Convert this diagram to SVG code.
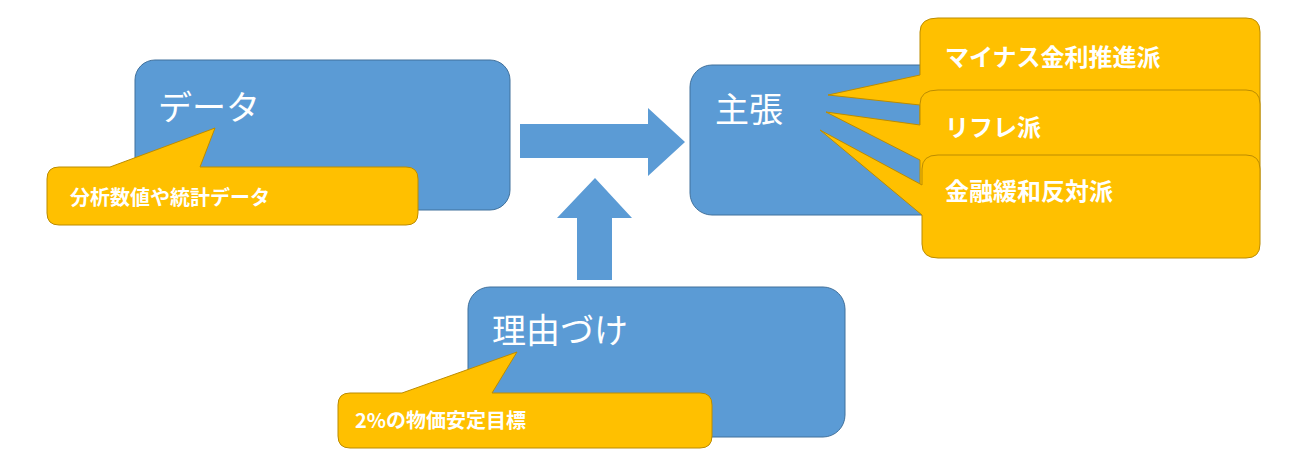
<svg xmlns="http://www.w3.org/2000/svg" width="1300" height="457" viewBox="0 0 1300 457">
<style>
.b{fill:#5b9bd5;stroke:#41719c;stroke-width:1}
.y{fill:#ffc000;stroke:#bc8c00;stroke-width:1}
.a{fill:#5b9bd5}
text{font-family:"Noto Sans CJK JP","Noto Sans",sans-serif;fill:#fff}
.t{font-size:34px}
.s{font-size:20px;font-weight:bold}
.m{font-size:24px;font-weight:bold}
</style>
<rect width="1300" height="457" fill="#fff"/>
<g id="connectors">
<path class="a" d="M520 124H648V108L685 142L648 176V158H520Z"/>
<path class="a" d="M577 280V218H557L595 178L632 218H612V280Z"/>
</g>
<g id="data">
<rect class="b" x="135" y="60" width="375" height="150" rx="20"/>
<text class="t" x="158" y="120">データ</text>
</g>
<g id="data-callout">
<path class="y" d="M59 167H110L215 128L200 167H406Q418 167 418 179V213Q418 225 406 225H59Q47 225 47 213V179Q47 167 59 167Z"/>
<text class="s" x="70" y="205">分析数値や統計データ</text>
</g>
<g id="claim">
<rect class="b" x="690" y="65" width="260" height="150" rx="22"/>
<text class="t" x="715" y="122">主張</text>
</g>
<g id="callout1">
<path class="y" d="M938 18H1246Q1260 18 1260 32V140H920V105L828 95L920 75V32Q920 18 938 18Z"/>
<text class="m" x="945" y="66">マイナス金利推進派</text>
</g>
<g id="callout2">
<path class="y" d="M938 90H1246Q1260 90 1260 104V190H920V160L826 112L920 125V104Q920 90 938 90Z"/>
<text class="m" x="945" y="136">リフレ派</text>
</g>
<g id="callout3">
<path class="y" d="M938 155H1246Q1260 155 1260 169V244Q1260 258 1246 258H938Q922 258 922 244V215L820 130L922 185V169Q922 155 938 155Z"/>
<text class="m" x="945" y="200">金融緩和反対派</text>
</g>
<g id="reason">
<rect class="b" x="468" y="287" width="377" height="150" rx="22"/>
<text class="t" x="492" y="343">理由づけ</text>
</g>
<g id="reason-callout">
<path class="y" d="M350 393H402L517 352L492 393H700Q712 393 712 405V436Q712 448 700 448H350Q338 448 338 436V405Q338 393 350 393Z"/>
<text class="s" x="355" y="428">2%の物価安定目標</text>
</g>
</svg>
